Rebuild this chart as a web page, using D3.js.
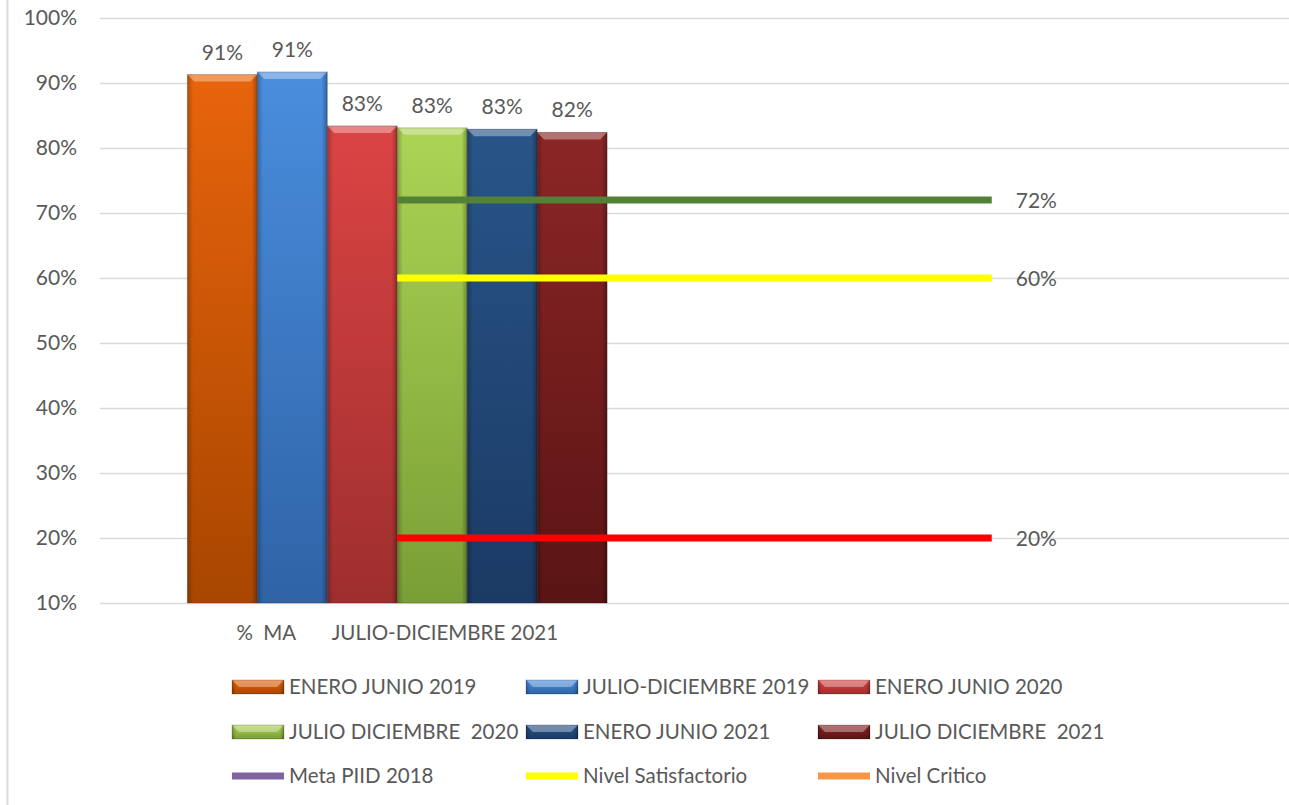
<!doctype html>
<html>
<head>
<script src="https://d3js.org/d3.v7.min.js"></script>
<style>
  body { margin: 0; background: #fff; }
  text { font-family: Lato, "Open Sans", sans-serif; fill: #595959; }
</style>
</head>
<body>
<script>
// data
var categories = ["%  MA       JULIO-DICIEMBRE 2021", ""];
var periods = ["ENERO JUNIO 2019", "JULIO-DICIEMBRE 2019", "ENERO JUNIO 2020",
               "JULIO DICIEMBRE  2020", "ENERO JUNIO 2021", "JULIO DICIEMBRE  2021"];
var periodValues = [91.3, 91.7, 83.4, 83.1, 82.9, 82.4];
var periodLabels = ["91%", "91%", "83%", "83%", "83%", "82%"];
var levelNames = ["Meta PIID 2018", "Nivel Satisfactorio", "Nivel Critico"];
var levelValues = [72, 60, 20];
var levelLabels = ["72%", "60%", "20%"];
var yTicks = [10, 20, 30, 40, 50, 60, 70, 80, 90, 100];

// colours: [top, bottom]
var barColors = [
  ["#e8640c", "#a84600"],
  ["#4a8ede", "#2f63a6"],
  ["#dc4444", "#9e2e2e"],
  ["#acd455", "#7a9e36"],
  ["#285589", "#1b3a64"],
  ["#8c2626", "#5a1414"]
];
var lineColors = ["#538135", "#ffff00", "#ff0000"];
var legendLineColors = ["#8064a2", "#ffff00", "#f79646"];

var W = 1289, H = 805;
var margin = {top: 18, right: 0, bottom: 203, left: 100};
var fs = "20.5px";

var svg = d3.select("body").append("svg")
    .attr("width", W).attr("height", H);

var defs = svg.append("defs");
barColors.forEach(function(c, i) {
  var g = defs.append("linearGradient").attr("id", "bg" + i)
      .attr("x1", 0).attr("y1", 0).attr("x2", 0).attr("y2", 1);
  g.append("stop").attr("offset", "0%").attr("stop-color", c[0]);
  g.append("stop").attr("offset", "100%").attr("stop-color", c[1]);
});
var side = defs.append("linearGradient").attr("id", "side")
    .attr("x1", 0).attr("y1", 0).attr("x2", 1).attr("y2", 0);
side.append("stop").attr("offset", "0%").attr("stop-color", "#000").attr("stop-opacity", 0.25);
side.append("stop").attr("offset", "8%").attr("stop-color", "#000").attr("stop-opacity", 0);
side.append("stop").attr("offset", "92%").attr("stop-color", "#000").attr("stop-opacity", 0);
side.append("stop").attr("offset", "100%").attr("stop-color", "#000").attr("stop-opacity", 0.3);
var blur = defs.append("filter").attr("id", "shadow").attr("x", "-5%").attr("y", "-50%")
    .attr("width", "110%").attr("height", "250%");
blur.append("feGaussianBlur").attr("stdDeviation", 1.5);

// chart border (left edge only visible)
svg.append("line").attr("x1", 7.5).attr("x2", 7.5).attr("y1", 0).attr("y2", H)
    .attr("stroke", "#d9d9d9").attr("stroke-width", 2);

var x = d3.scaleBand().domain(categories)
    .range([margin.left, W - margin.right]);
var y = d3.scaleLinear().domain([10, 100])
    .range([H - margin.bottom + 1, margin.top]);

// gridlines + y labels
var yAxis = svg.append("g")
    .attr("transform", "translate(" + margin.left + ",0)")
    .call(d3.axisLeft(y).tickValues(yTicks)
      .tickSize(-(W - margin.left - margin.right))
      .tickFormat(function(d) { return d + "%"; }));
yAxis.select(".domain").remove();
yAxis.selectAll(".tick line").attr("stroke", "#d9d9d9").attr("stroke-width", 1.5);
yAxis.selectAll(".tick text").attr("x", -23).attr("font-size", "21px")
    .style("font-family", "Lato, sans-serif").attr("fill", "#595959");

// x labels
var xAxis = svg.append("g")
    .attr("transform", "translate(0," + y(10) + ")")
    .call(d3.axisBottom(x).tickSize(0));
xAxis.select(".domain").remove();
xAxis.selectAll(".tick text").attr("y", 22).attr("font-size", fs)
    .style("white-space", "pre")
    .style("font-family", "Lato, sans-serif").attr("fill", "#595959");

// bars inside first category
var inner = d3.scaleBand().domain(periods)
    .range([x(categories[0]) + x.bandwidth() * 0.147, x(categories[0]) + x.bandwidth() * 0.853])
    .paddingInner(0);

function drawBar(g, bx, by, bw, bh, i) {
  g.append("rect").attr("x", bx).attr("y", by).attr("width", bw).attr("height", bh)
      .attr("fill", "url(#bg" + i + ")");
  g.append("rect").attr("x", bx).attr("y", by).attr("width", bw).attr("height", bh)
      .attr("fill", "url(#side)");
  var b = Math.min(7, bh / 2);
  g.append("path")
      .attr("d", "M" + bx + "," + by + "L" + (bx + bw) + "," + by + "L" + (bx + bw - b) + "," + (by + b) +
        "L" + (bx + b) + "," + (by + b) + "Z")
      .attr("fill", "#fff").attr("opacity", 0.35);
  g.append("rect").attr("x", bx).attr("y", by).attr("width", bw).attr("height", bh)
      .attr("fill", "none").attr("stroke", "#000").attr("stroke-opacity", 0.2);
}

var bars = svg.append("g");
periods.forEach(function(p, i) {
  var bx = inner(p), bw = inner.bandwidth();
  var by = y(periodValues[i]), bh = y(10) - by;
  drawBar(bars.append("g"), bx, by, bw, bh, i);
  bars.append("text").attr("x", bx + bw / 2).attr("y", by - 15)
      .attr("text-anchor", "middle").attr("font-size", "21px").attr("fill", "#404040")
      .text(periodLabels[i]);
});

// level lines from centre of category 1 to centre of category 2
var cx0 = x(categories[0]) + x.bandwidth() / 2;
var cx1 = x(categories[1]) + x.bandwidth() / 2;
var lines = svg.append("g");
levelValues.forEach(function(v, i) {
  lines.append("line").attr("x1", cx0).attr("x2", cx1 + 2)
      .attr("y1", y(v) + 6).attr("y2", y(v) + 6)
      .attr("stroke", "#000").attr("stroke-opacity", 0.3).attr("stroke-width", 7)
      .attr("filter", "url(#shadow)");
  lines.append("line").attr("x1", cx0).attr("x2", cx1)
      .attr("y1", y(v)).attr("y2", y(v))
      .attr("stroke", lineColors[i]).attr("stroke-width", 7);
  lines.append("text").attr("x", cx1 + 24).attr("y", y(v) + 8)
      .attr("font-size", "21px").attr("fill", "#404040")
      .text(levelLabels[i]);
});

// legend
var legendItems = periods.map(function(p, i) { return {name: p, type: "bar", i: i}; })
  .concat(levelNames.map(function(n, i) { return {name: n, type: "line", i: i}; }));
var colX = [232, 526, 818], rowY = [687, 732, 776];
var legend = svg.append("g");
legendItems.forEach(function(d, k) {
  var lx = colX[k % 3], ly = rowY[Math.floor(k / 3)];
  var g = legend.append("g");
  if (d.type === "bar") {
    drawBar(g, lx, ly - 7, 52, 14, d.i);
  } else {
    g.append("rect").attr("x", lx).attr("y", ly - 3.5).attr("width", 52).attr("height", 7)
        .attr("fill", legendLineColors[d.i]);
  }
  g.append("text").attr("x", lx + 57).attr("y", ly + 7)
      .attr("font-size", fs).attr("fill", "#595959")
      .style("white-space", "pre").text(d.name);
});
</script>
</body>
</html>
